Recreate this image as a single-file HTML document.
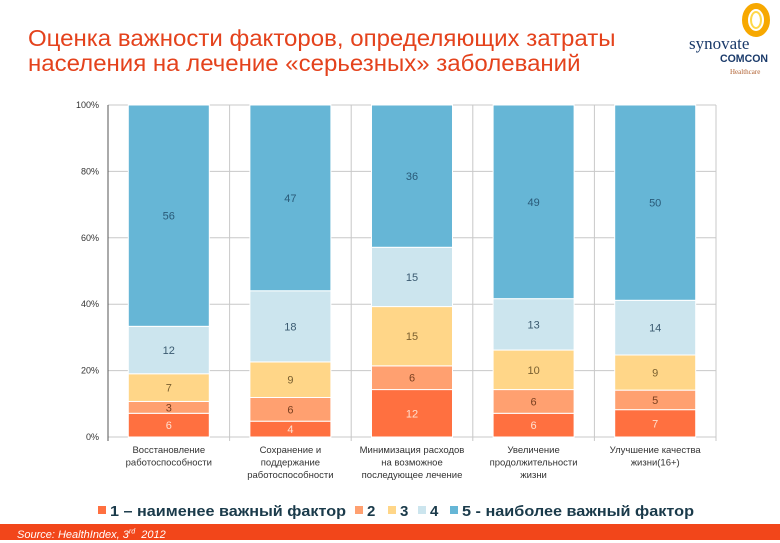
<!DOCTYPE html>
<html><head><meta charset="utf-8">
<style>
body{margin:0;width:780px;height:540px;overflow:hidden;background:#fff;font-family:"Liberation Sans",sans-serif;position:relative}
#title{position:absolute;left:28px;top:26px;font-size:23px;line-height:25px;color:#e4421c;transform:scaleX(1.044);transform-origin:0 0;white-space:nowrap}
#footer{position:absolute;left:0;top:524px;width:780px;height:16px;background:#f2461a;color:#fff;font-style:italic;font-size:11px;line-height:16px}
</style></head><body>
<div id="title">Оценка важности факторов, определяющих затраты<br>населения на лечение «серьезных» заболеваний</div>
<svg style="position:absolute;left:680px;top:0" width="100" height="80">
<ellipse cx="76" cy="20" rx="11" ry="14" fill="none" stroke="#f7a800" stroke-width="6"/>
<ellipse cx="76" cy="20" rx="5" ry="8" fill="none" stroke="#ffd84a" stroke-width="2"/>
<text x="9" y="49" font-family="Liberation Serif" font-size="17" fill="#1a3a6a">synovate</text>
<text x="40" y="62" font-family="Liberation Sans" font-weight="bold" font-size="11" fill="#1a3a6a" textLength="48" lengthAdjust="spacingAndGlyphs">COMCON</text>
<text x="50" y="74" font-family="Liberation Serif" font-size="7" fill="#b06030">Healthcare</text>
</svg>
<svg id="chart" width="780" height="540" style="position:absolute;left:0;top:0"></svg>
<div id="footer"><span style="margin-left:17px">Source: HealthIndex, 3<sup style="font-size:7px">rd</sup>&nbsp; 2012</span></div>
<script>
const categories=[["Восстановление","работоспособности"],["Сохранение и","поддержание","работоспособности"],["Минимизация расходов","на возможное","последующее лечение"],["Увеличение","продолжительности","жизни"],["Улучшение качества","жизни(16+)"]];
const s1=[6,4,12,6,7];
const s2=[3,6,6,6,5];
const s3=[7,9,15,10,9];
const s4=[12,18,15,13,14];
const s5=[56,47,36,49,50];
const yTicks=["0%","20%","40%","60%","80%","100%"];
const legendLabels=["1 – наименее важный фактор","2","3","4","5 - наиболее важный фактор"];
const series=[s1,s2,s3,s4,s5];
const colors=["#ff7040","#ffa070","#ffd688","#cce5ee","#66b6d6"];
const txtCol=["#ffe0d0","#7a4020","#7a6030","#3a5a70","#2a5a78"];
const NS="http://www.w3.org/2000/svg";
const svg=document.getElementById('chart');
function el(t,a,p){const e=document.createElementNS(NS,t);for(const k in a)e.setAttribute(k,a[k]);(p||svg).appendChild(e);return e;}
const X0=108,CW=121.6,Y0=437,Y1=105;
const y=v=>Y0-(Y0-Y1)*v/100;
const xc=i=>X0+CW*(i+0.5);
for(let t=0;t<yTicks.length;t++){
 const v=t*20;
 const g=el('line',{x1:X0,x2:X0+CW*5,y1:y(v),y2:y(v),stroke:'#c8c8c8','stroke-width':1});
 
 const tl=el('text',{x:X0-9,y:y(v)+3,'text-anchor':'end','font-size':9,fill:'#333'});
 tl.textContent=yTicks[t];
 
}
for(let i=1;i<=5;i++){
 const g=el('line',{x1:X0+CW*i,x2:X0+CW*i,y1:Y1,y2:Y0+4,stroke:'#c8c8c8','stroke-width':1});
 
}
const ax=el('line',{x1:X0,x2:X0,y1:Y1,y2:Y0+4,stroke:'#555','stroke-width':1});

const bw=81;
categories.forEach((c,i)=>{
 const tot=series.reduce((s,a)=>s+a[i],0);
 let acc=0;
 series.forEach((a,k)=>{
  const v=a[i]/tot*100;
  const r=el('rect',{x:xc(i)-bw/2,y:y(acc+v),width:bw,height:y(acc)-y(acc+v),fill:colors[k],stroke:'#fff','stroke-width':1});
  
  const t=el('text',{x:xc(i),y:(y(acc)+y(acc+v))/2+4,'text-anchor':'middle','font-size':11,fill:txtCol[k]});
  t.textContent=a[i];
  
  acc+=v;
 });
 c.forEach((line,j)=>{
  const t=el('text',{x:xc(i),y:453+j*12.5,'text-anchor':'middle','font-size':9.5,fill:'#333'});
  t.textContent=line;
  
 });
});
const legX=[98,355,388,418,450];
legendLabels.forEach((l,k)=>{
 const lx=legX[k];
 const r=el('rect',{x:lx,y:506,width:8,height:8,fill:colors[k]});
 
 const a={x:lx+12,y:516,'font-size':15,'font-weight':'bold',fill:'#1a3a4a'};
 if(l.length>2){a.textLength=(k===0?236:232);a.lengthAdjust='spacingAndGlyphs';}
 const t=el('text',a);
 t.textContent=l;
 
});
</script>
</body></html>
